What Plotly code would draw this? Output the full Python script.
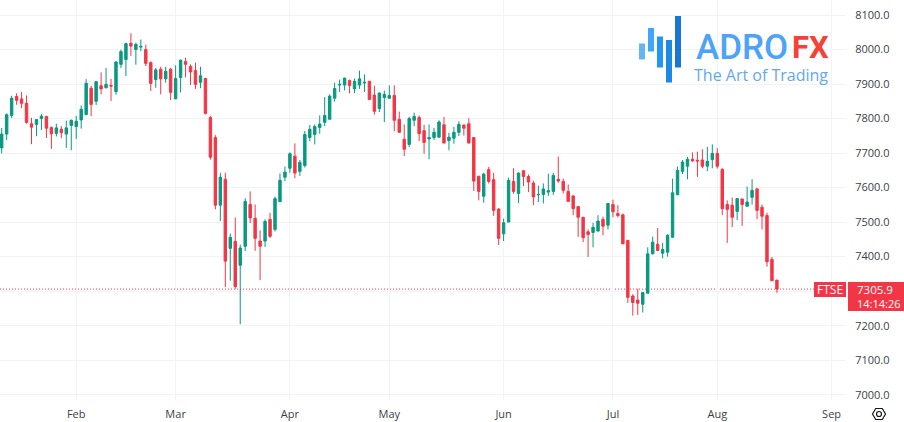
import plotly.graph_objects as go

# daily FTSE candles
opens = [7715, 7755, 7809, 7864, 7857, 7844, 7785, 7783, 7800, 7806,
         7774, 7757, 7769, 7755, 7780, 7777, 7796, 7812, 7888, 7850,
         7895, 7889, 7896, 7878, 7957, 7971, 8018, 8000, 8007, 8000,
         7962, 7913, 7943, 7915, 7943, 7857, 7919, 7965, 7951, 7939,
         7905, 7916, 7803, 7745, 7549, 7624, 7424, 7444, 7375, 7430,
         7551, 7511, 7445, 7445, 7508, 7479, 7559, 7630, 7656, 7691,
         7647, 7664, 7745, 7754, 7774, 7789, 7798, 7859, 7897, 7897,
         7910, 7886, 7897, 7903, 7908, 7868, 7829, 7861, 7859, 7867,
         7798, 7740, 7725, 7795, 7803, 7765, 7741, 7745, 7746, 7782,
         7736, 7743, 7760, 7781, 7785, 7745, 7633, 7575, 7652, 7623,
         7538, 7466, 7500, 7618, 7583, 7649, 7632, 7613, 7579, 7580,
         7587, 7589, 7624, 7618, 7589, 7576, 7545, 7514, 7472, 7470,
         7474, 7508, 7491, 7551, 7525, 7521, 7447, 7286, 7274, 7262,
         7294, 7408, 7436, 7410, 7413, 7456, 7579, 7647, 7662, 7682,
         7679, 7680, 7662, 7681, 7699, 7653, 7551, 7549, 7531, 7567,
         7546, 7572, 7596, 7543, 7519, 7392, 7332]
highs = [7773, 7815, 7866, 7873, 7877, 7867, 7802, 7798, 7813, 7808,
         7777, 7785, 7778, 7794, 7797, 7808, 7838, 7914, 7895, 7908,
         7934, 7947, 7915, 7966, 8000, 8020, 8047, 8020, 8029, 8014,
         7966, 7947, 7950, 7950, 7947, 7954, 7971, 7976, 7957, 7962,
         7950, 7918, 7808, 7752, 7643, 7643, 7467, 7513, 7435, 7569,
         7589, 7551, 7476, 7508, 7527, 7574, 7641, 7661, 7702, 7728,
         7680, 7764, 7781, 7783, 7809, 7862, 7870, 7904, 7913, 7919,
         7913, 7916, 7939, 7928, 7909, 7895, 7875, 7881, 7896, 7896,
         7820, 7783, 7805, 7817, 7809, 7782, 7783, 7773, 7795, 7805,
         7759, 7776, 7792, 7783, 7801, 7745, 7634, 7643, 7660, 7643,
         7540, 7510, 7629, 7656, 7644, 7650, 7638, 7620, 7606, 7612,
         7640, 7643, 7690, 7626, 7609, 7578, 7545, 7515, 7479, 7498,
         7520, 7516, 7554, 7565, 7549, 7525, 7448, 7291, 7307, 7296,
         7427, 7458, 7483, 7440, 7465, 7626, 7661, 7680, 7689, 7702,
         7704, 7711, 7718, 7725, 7714, 7656, 7563, 7571, 7569, 7568,
         7603, 7624, 7600, 7551, 7527, 7399, 7332]
lows = [7699, 7738, 7802, 7840, 7830, 7785, 7726, 7749, 7767, 7744,
        7712, 7748, 7743, 7715, 7708, 7741, 7771, 7809, 7807, 7839,
        7870, 7888, 7851, 7869, 7946, 7923, 7981, 7956, 7995, 7952,
        7880, 7889, 7870, 7904, 7854, 7857, 7876, 7919, 7897, 7886,
        7888, 7812, 7681, 7537, 7503, 7312, 7330, 7307, 7204, 7416,
        7497, 7417, 7332, 7428, 7454, 7473, 7559, 7619, 7643, 7627,
        7634, 7658, 7734, 7725, 7756, 7778, 7798, 7849, 7877, 7882,
        7873, 7874, 7886, 7877, 7855, 7811, 7819, 7790, 7857, 7763,
        7760, 7691, 7717, 7778, 7735, 7698, 7682, 7738, 7745, 7729,
        7708, 7727, 7749, 7751, 7729, 7590, 7563, 7556, 7612, 7518,
        7434, 7445, 7500, 7582, 7555, 7604, 7587, 7549, 7558, 7554,
        7576, 7579, 7614, 7583, 7560, 7520, 7457, 7442, 7399, 7427,
        7473, 7462, 7479, 7514, 7514, 7436, 7266, 7229, 7231, 7238,
        7294, 7407, 7416, 7395, 7400, 7456, 7579, 7639, 7624, 7675,
        7631, 7656, 7648, 7656, 7655, 7520, 7440, 7486, 7506, 7489,
        7546, 7551, 7508, 7479, 7371, 7330, 7295]
closes = [7755, 7811, 7859, 7853, 7844, 7789, 7775, 7797, 7807, 7772,
          7756, 7773, 7759, 7773, 7795, 7792, 7827, 7902, 7841, 7907,
          7886, 7899, 7894, 7964, 7994, 8017, 8010, 8015, 8009, 7960,
          7902, 7941, 7915, 7937, 7876, 7916, 7969, 7957, 7935, 7899,
          7924, 7815, 7688, 7549, 7630, 7387, 7456, 7313, 7425, 7560,
          7512, 7453, 7430, 7502, 7459, 7568, 7621, 7645, 7698, 7642,
          7673, 7754, 7769, 7777, 7784, 7809, 7865, 7887, 7899, 7917,
          7896, 7908, 7915, 7905, 7855, 7821, 7874, 7870, 7867, 7795,
          7760, 7711, 7800, 7806, 7756, 7731, 7745, 7760, 7790, 7729,
          7746, 7760, 7783, 7772, 7729, 7619, 7589, 7639, 7618, 7534,
          7453, 7498, 7621, 7589, 7642, 7632, 7616, 7573, 7580, 7596,
          7591, 7635, 7619, 7592, 7560, 7539, 7514, 7455, 7464, 7485,
          7503, 7488, 7554, 7530, 7519, 7437, 7282, 7267, 7265, 7296,
          7408, 7442, 7418, 7421, 7462, 7585, 7650, 7674, 7682, 7677,
          7677, 7662, 7676, 7699, 7662, 7539, 7537, 7514, 7568, 7551,
          7558, 7592, 7534, 7517, 7385, 7330, 7305.9]

month_labels = ["Feb", "Mar", "Apr", "May", "Jun", "Jul", "Aug", "Sep"]
month_bars = [15, 35, 58, 78, 101, 123, 144, 167]  # bar number of each month start
price_ticks = [7000, 7100, 7200, 7300, 7400, 7500, 7600, 7700, 7800, 7900,
               8000, 8100]
last_price = 7305.9
countdown = "14:14:26"
symbol = "FTSE"

UP = "#089981"
DOWN = "#F23645"
GRID = "#F1F3F8"
TEXT = "#3c3f48"
FONT = "Open Sans"
LOGO_FONT = "Roboto"

W, H = 904, 422
PLOT_W, PLOT_H = 846, 400


# helpers: window pixels to paper coordinates, for the logo and the price tags
def px(x):
    return x / PLOT_W


def py(y):
    return 1 - y / PLOT_H


def box(x0, y0, x1, y1, color):
    return dict(type="rect", xref="paper", yref="paper", x0=px(x0), x1=px(x1),
                y0=py(y0), y1=py(y1), fillcolor=color, line_width=0, layer="above")


def label(x, y, text, size, color, anchor="left", weight=400, family=FONT):
    return dict(xref="paper", yref="paper", x=px(x), y=py(y), text=text,
                showarrow=False, xanchor=anchor, yanchor="middle",
                font=dict(family=family, size=size, color=color, weight=weight))


bars = list(range(len(opens)))

fig = go.Figure(go.Candlestick(
    x=bars, open=opens, high=highs, low=lows, close=closes,
    increasing=dict(line=dict(color=UP, width=1), fillcolor=UP),
    decreasing=dict(line=dict(color=DOWN, width=1), fillcolor=DOWN),
    whiskerwidth=0,
    name=symbol,
))

shapes = [
    # last price line
    dict(type="line", xref="paper", yref="y", x0=0, x1=1, y0=last_price, y1=last_price,
         line=dict(color=DOWN, width=1, dash="1px,2px"), layer="below"),
    # price tags
    box(814, 282, 846, 297, DOWN),
    box(848, 282, 904, 311, DOWN),
    # logo bars
    box(639, 43.5, 645, 59.5, "#64B5F6"),
    box(648, 28, 654, 51.5, "#42A5F5"),
    box(657, 36.5, 663, 67.5, "#2196F3"),
    box(666, 40, 672, 82.5, "#1E88E5"),
    box(675, 16, 681, 67.5, "#1976D2"),
]

# settings icon
hex_pts = [(872.5, 414), (875.7, 408.5), (882.3, 408.5), (885.5, 414), (882.3, 419.5), (875.7, 419.5)]
hex_path = "M " + " L ".join(f"{px(a):.5f},{py(b):.5f}" for a, b in hex_pts) + " Z"
shapes.append(dict(type="path", xref="paper", yref="paper", path=hex_path,
                   line=dict(color="#131722", width=1.2), layer="above"))
shapes.append(dict(type="circle", xref="paper", yref="paper", x0=px(876.5), x1=px(881.5),
                   y0=py(416.5), y1=py(411.5), line=dict(color="#131722", width=1.2), layer="above"))

annotations = [
    label(830, 289.5, symbol, 12, "white", "center"),
    label(855, 289.5, f"{last_price:.1f}", 11.5, "white"),
    label(855, 303.5, countdown, 11, "white"),
    label(693.5, 47.5, "ADRO", 35, "#4DA3F8", weight=500, family=LOGO_FONT),
    label(790, 47.5, "FX", 31, "#F44336", weight=700, family=LOGO_FONT),
    label(692, 74.5, "The Art of Trading", 16, "#64A8EE"),
]

fig.update_layout(
    width=W, height=H,
    margin=dict(l=0, r=W - PLOT_W, t=0, b=H - PLOT_H),
    paper_bgcolor="white", plot_bgcolor="white",
    showlegend=False,
    boxgap=0.3,
    font=dict(family=FONT, size=11, color=TEXT),
    shapes=shapes,
    annotations=annotations,
    xaxis=dict(
        range=[-0.34, 169.9],
        rangeslider_visible=False,
        tickmode="array", tickvals=month_bars, ticktext=month_labels,
        showgrid=True, gridcolor=GRID, gridwidth=1,
        zeroline=False, showline=False,
        ticks="outside", ticklen=4, tickcolor="rgba(0,0,0,0)",
    ),
    yaxis=dict(
        range=[6984.6, 8143.5],
        side="right",
        tickmode="array", tickvals=price_ticks,
        ticktext=[f"{p:.1f}" for p in price_ticks],
        showgrid=True, gridcolor=GRID, gridwidth=1,
        zeroline=False, showline=False,
        ticks="outside", ticklen=6, tickcolor="rgba(0,0,0,0)",
    ),
)

# the page's default body margin would push the chart 8px in
fig.write_html("out.html", config={"displayModeBar": False},
               post_script="document.body.style.margin = '0';")
